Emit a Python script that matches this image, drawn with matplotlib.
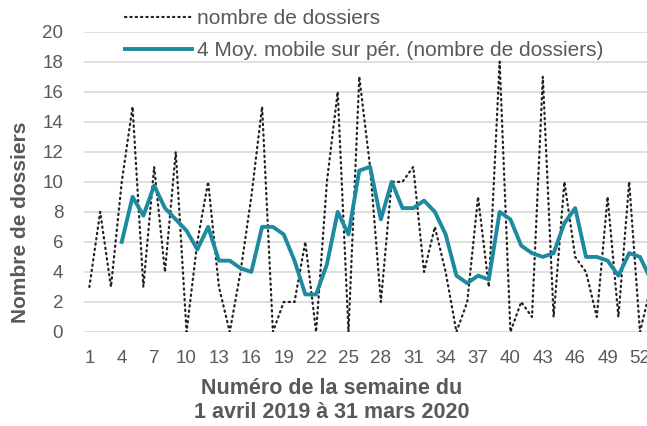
import numpy as np
import pandas as pd
import matplotlib
matplotlib.use("Agg")
import matplotlib.pyplot as plt

plt.rcParams["font.family"] = ["Liberation Sans", "DejaVu Sans"]

# weekly counts (week 1 = 1 April 2019)
semaines = list(range(1, 54))
dossiers = [3, 8, 3, 10, 15, 3, 11, 4, 12, 0, 6, 10, 3, 0, 4, 9, 15, 0, 2, 2,
            6, 0, 10, 16, 0, 17, 11, 2, 10, 10, 11, 4, 7, 4, 0, 2, 9, 3, 18, 0,
            2, 1, 17, 1, 10, 5, 4, 1, 9, 1, 10, 0, 3]
tick_weeks = list(range(1, 53, 3))

df = pd.DataFrame({"semaine": semaines, "n": dossiers})
df["moy"] = df["n"].rolling(4).mean()

grey = "#595959"
teal = "#1e8aa0"

fig = plt.figure(figsize=(6.47, 4.26), dpi=100)
ax = fig.add_axes([0.1298, 0.2207, 0.8702, 0.7049])

ax.plot(df["semaine"], df["n"], color="#222222", lw=1.6, linestyle=(0, (0.6, 1.8)),
        dash_capstyle="round", label="nombre de dossiers")
ax.plot(df["semaine"], df["moy"], color=teal, lw=2.8,
        label="4 Moy. mobile sur pér. (nombre de dossiers)")

ax.set_xlim(0.5, 52.65)
ax.set_ylim(0, 20)
ax.set_yticks(range(0, 21, 2))
ax.set_xticks(tick_weeks)
ax.grid(axis="y", color="#d9d9d9", lw=1.2)
ax.set_axisbelow(True)
for s in ax.spines.values():
    s.set_visible(False)
ax.tick_params(length=0, labelsize=13.5, colors=grey)
ax.tick_params(axis="x", pad=13)
ax.tick_params(axis="y", pad=15)

fig.text(0.031, 0.479, "Nombre de dossiers", rotation=90, ha="center", va="center",
         fontsize=15, fontweight="bold", color=grey)
fig.text(0.512, 0.06, "Numéro de la semaine du\n1 avril 2019 à 31 mars 2020",
         ha="center", va="center", fontsize=15.5, fontweight="bold", color=grey,
         linespacing=1.15)

leg = ax.legend(loc="upper left", bbox_to_anchor=(0.193, 0.978), bbox_transform=fig.transFigure,
                frameon=False, fontsize=15, handlelength=3.2, handletextpad=0.25,
                labelspacing=0.62, borderpad=0, borderaxespad=0)
for t in leg.get_texts():
    t.set_color(grey)

fig.savefig("out.png", dpi=100)
